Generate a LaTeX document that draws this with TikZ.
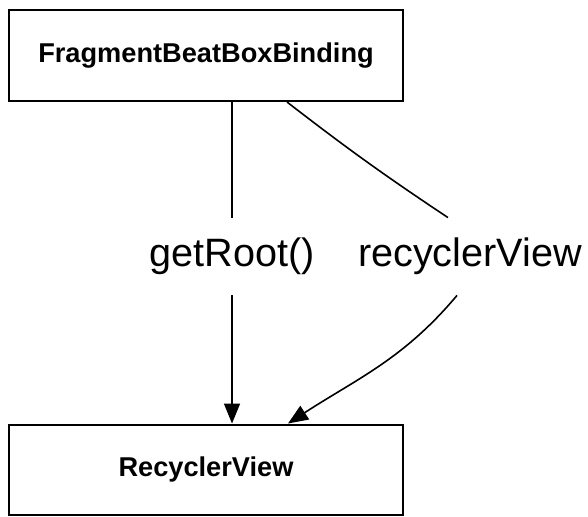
\documentclass[tikz,border=0pt]{standalone}
\usepackage{fontspec}
\setmainfont{Liberation Sans}
\usetikzlibrary{arrows.meta}
\begin{document}
\begin{tikzpicture}[x=0.5pt,y=-0.5pt,
  box/.style={draw, line width=1pt, minimum width=197pt, minimum height=45.5pt,
    font=\bfseries\fontsize{13.6}{16}\selectfont},
  lbl/.style={inner sep=0pt, minimum height=38.5pt, font=\fontsize{19.8}{24}\selectfont},
  conn/.style={line width=0.8pt},
  tip/.style={-{Triangle[length=10pt,width=8pt]}}]
  \useasboundingbox (0,0) rectangle (588,516);
  \node[box] (binding) at (206,55.5) {FragmentBeatBoxBinding};
  \node[box, minimum height=45pt] (recycler) at (206,469.5) {RecyclerView};
  \node[lbl] (getroot) at (232,256.5) {getRoot()};
  \node[lbl] (field) at (470,256.5) {recyclerView};
  % getRoot() path
  \draw[conn] (binding.south -| getroot.north) -- (getroot.north);
  \draw[conn, tip] (getroot.south) -- (recycler.north -| getroot.south);
  % recyclerView path
  \coordinate (fieldin) at ([xshift=40.5pt]binding.south);
  \coordinate (fieldtop) at ([xshift=-11pt]field.north);
  \coordinate (fieldbot) at ([xshift=-6.5pt]field.south);
  \coordinate (fieldout) at ([xshift=41pt]recycler.north);
  \draw[conn] (fieldin) to[bend right=2] (fieldtop);
  \draw[conn, tip] (fieldbot) to[out=-130, in=33] (fieldout);
\end{tikzpicture}
\end{document}
